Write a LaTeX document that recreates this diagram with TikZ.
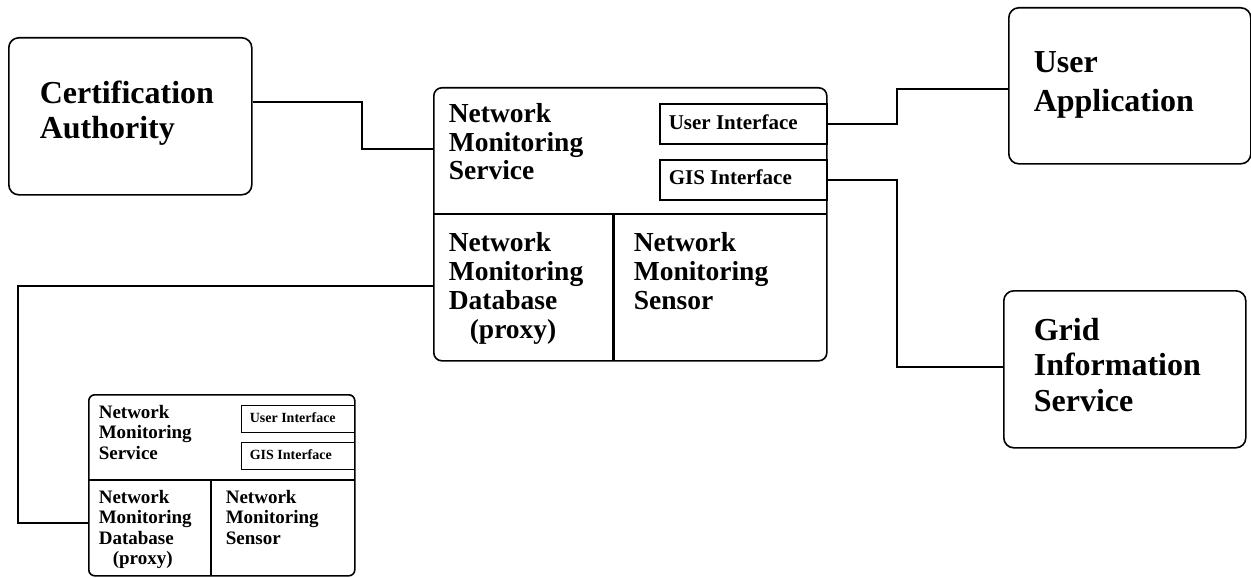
\documentclass[tikz,border=0pt]{standalone}
\usepackage{fontspec}
\setmainfont{Liberation Serif}
\begin{document}
\begin{tikzpicture}[x=1pt,y=-1pt,line width=1.6pt,line join=miter,
  bigbox/.style={draw,rounded corners=10pt,inner sep=0pt,anchor=north west},
  midbox/.style={draw,rounded corners=8pt,inner sep=0pt,anchor=north west},
  smallbox/.style={draw,rounded corners=6pt,inner sep=0pt,anchor=north west},
  ifbox/.style={draw,line width=1.5pt,inner sep=0pt,anchor=north west},
  wire/.style={line width=1.5pt},
  txt/.style={anchor=base west,inner sep=0pt,font=\bfseries},
  fbig/.style={txt,font=\bfseries\fontsize{32}{35.5}\selectfont},
  fmid/.style={txt,font=\bfseries\fontsize{27.5}{29}\selectfont},
  fmidif/.style={txt,font=\bfseries\fontsize{21}{22}\selectfont},
  fsml/.style={txt,font=\bfseries\fontsize{19}{20.5}\selectfont},
  fsmlif/.style={txt,font=\bfseries\fontsize{14}{16}\selectfont}]
\useasboundingbox (0,0) rectangle (1251,578);

% outer boxes
\node[bigbox,minimum width=243pt,minimum height=157pt] (ca) at (8,37) {};
\node[bigbox,minimum width=242pt,minimum height=156pt] (ua) at (1008,7) {};
\node[bigbox,minimum width=242pt,minimum height=157pt] (gris) at (1003,290) {};

\node[fbig] (catext) at (39,103) {\vtop{\hbox{Certification}\hbox{Authority}}};
\node[fbig,font=\bfseries\fontsize{32}{39}\selectfont] (uatext) at (1033,73) {\vtop{\hbox{User}\hbox{Application}}};
\node[fbig] (gristext) at (1033,340) {\vtop{\hbox{Grid}\hbox{Information}\hbox{Service}}};

% main network monitoring box
\node[midbox,minimum width=393pt,minimum height=273pt] (nms) at (433,87) {};
\draw (433,214) -- (826,214);
\draw[line width=3pt] (613,214) -- (613,360);
\node[ifbox,minimum width=167pt,minimum height=40pt] (ui) at (659,103) {};
\node[ifbox,minimum width=167pt,minimum height=40pt] (gis) at (659,159) {};
\node[fmidif] (uitext) at (668,129) {User Interface};
\node[fmidif] (gistext) at (668,184) {GIS Interface};
\node[fmid] (nmstext) at (448,122) {\vtop{\hbox{Network}\hbox{Monitoring}\hbox{Service}}};
\node[fmid] (dbtext) at (448,251) {\vtop{\hbox{Network}\hbox{Monitoring}\hbox{Database}\hbox{\hspace{21pt}(proxy)}}};
\node[fmid] (sentext) at (633,251) {\vtop{\hbox{Network}\hbox{Monitoring}\hbox{Sensor}}};

% small network monitoring box
\node[smallbox,minimum width=266pt,minimum height=181pt] (snms) at (88,394) {};
\draw[line width=1.8pt] (88,480) -- (354,480);
\draw[line width=2.5pt] (211,480) -- (211,575);
\node[ifbox,line width=1.3pt,minimum width=113pt,minimum height=27pt] (sui) at (241,405) {};
\node[ifbox,line width=1.3pt,minimum width=113pt,minimum height=27pt] (sgis) at (241,442) {};
\node[fsmlif] (suitext) at (249,422) {User Interface};
\node[fsmlif] (sgistext) at (249,459) {GIS Interface};
\node[fsml] (snmstext) at (98,418) {\vtop{\hbox{Network}\hbox{Monitoring}\hbox{Service}}};
\node[fsml] (sdbtext) at (98,503) {\vtop{\hbox{Network}\hbox{Monitoring}\hbox{Database}\hbox{\hspace{14pt}(proxy)}}};
\node[fsml] (ssentext) at (225,503) {\vtop{\hbox{Network}\hbox{Monitoring}\hbox{Sensor}}};

% connectors
\draw[wire] ([yshift=14.5pt]ca.east) -| (362,124) |- ([yshift=75.5pt]nms.west);
\draw[wire] (ui.east) -| (897,105) |- ([yshift=-3pt]ua.west);
\draw[wire] (gis.east) -| (897,270) |- ([yshift=2.5pt]gris.west);
\draw[wire] ([yshift=-61.5pt]nms.west) -| (18,400) |- ([yshift=-37.5pt]snms.west);
\end{tikzpicture}
\end{document}
